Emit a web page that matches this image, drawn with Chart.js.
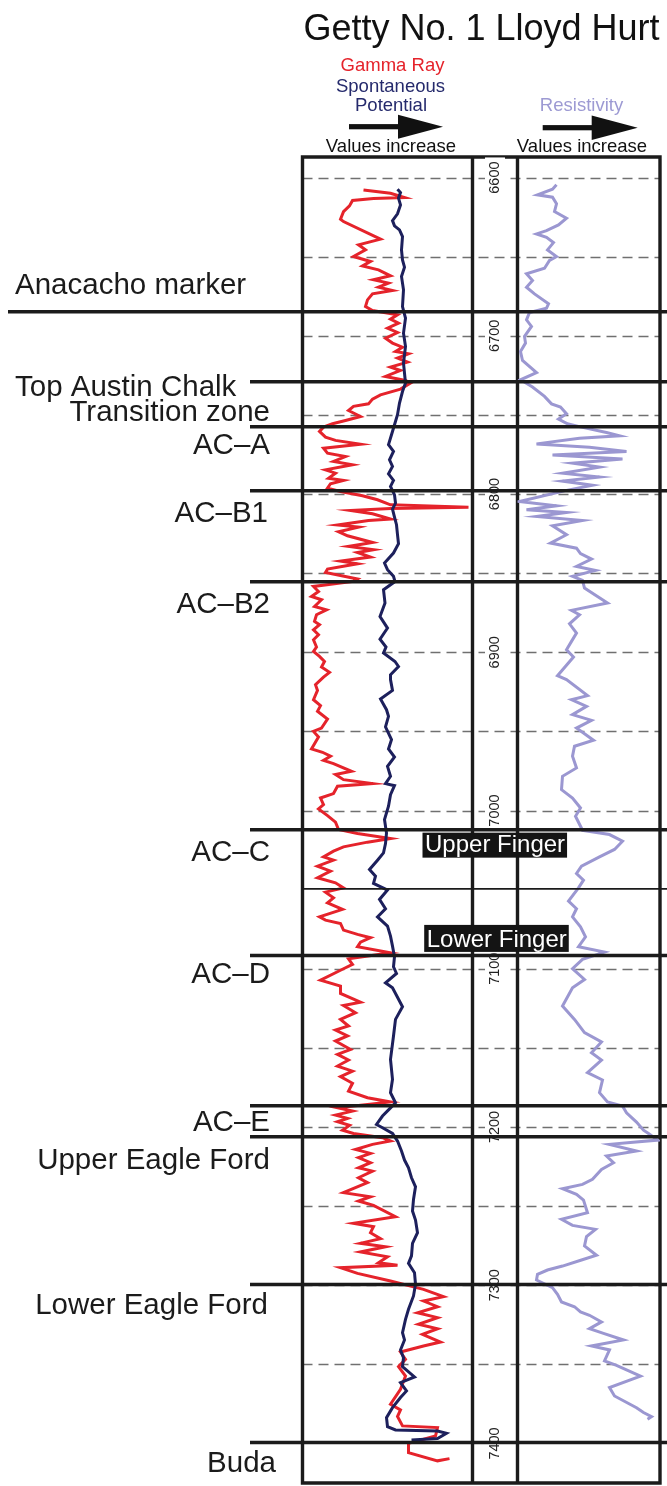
<!DOCTYPE html>
<html>
<head>
<meta charset="utf-8">
<title>Getty No. 1 Lloyd Hurt</title>
<style>
html,body{margin:0;padding:0;background:#fff;}
#wrap{position:relative;width:667px;height:1486px;}
canvas{display:block;}
</style>
<script src="https://cdn.jsdelivr.net/npm/chart.js@4.4.1/dist/chart.umd.min.js"></script>
</head>
<body>
<div id="wrap"><canvas id="c" width="667" height="1486"></canvas></div>
<script>
// ---------------- DATA ----------------
const chartTitle = 'Getty No. 1 Lloyd Hurt';

// Gamma ray (API)
const grDepth = [6607.8,6609.9,6612.6,6613.3,6614.5,6617.9,6621.5,6626.3,6627.8,6638.9,6642.5,6645.7,6649.9,6653.0,6655.8,6658.3,6662.1,6664.6,6666.7,6669.3,6671.4,6673.5,6677.3,6681.5,6684.0,6686.7,6689.5,6692.0,6695.2,6697.9,6701.5,6704.6,6707.2,6709.9,6711.4,6714.1,6716.6,6719.8,6721.9,6725.7,6728.2,6729.9,6733.7,6737.3,6740.0,6743.0,6744.6,6747.2,6751.0,6753.5,6755.6,6757.7,6760.4,6764.0,6766.1,6768.5,6771.0,6774.2,6776.3,6779.4,6781.5,6784.7,6786.8,6790.0,6791.4,6793.5,6796.3,6798.4,6801.1,6803.6,6806.8,6808.3,6809.1,6810.4,6812.5,6815.8,6816.7,6819.6,6820.9,6823.8,6826.4,6830.6,6833.1,6835.2,6836.9,6839.8,6842.4,6844.1,6847.4,6849.5,6853.7,6855.2,6858.4,6861.6,6864.7,6866.8,6871.1,6873.2,6876.3,6880.5,6882.6,6885.8,6888.9,6892.1,6896.7,6899.5,6902.6,6905.8,6909.3,6912.7,6915.7,6920.5,6924.1,6930.0,6933.7,6937.3,6942.2,6947.9,6950.0,6953.5,6961.1,6963.2,6965.7,6968.3,6970.4,6975.2,6977.3,6980.5,6983.0,6984.7,6989.3,6992.1,6996.3,6999.0,7003.2,7007.4,7012.0,7014.5,7017.7,7020.0,7023.0,7025.7,7029.3,7031.4,7035.2,7038.3,7042.5,7045.7,7048.9,7051.6,7055.2,7058.3,7062.5,7067.2,7069.3,7071.4,7075.6,7078.3,7080.4,7083.2,7086.1,7089.9,7093.7,7097.3,7100.0,7107.2,7111.0,7115.6,7121.1,7123.2,7127.8,7132.0,7136.2,7138.8,7142.5,7145.7,7151.0,7154.1,7157.7,7161.5,7164.7,7168.2,7172.4,7177.3,7181.5,7184.2,7187.9,7190.0,7192.5,7194.6,7196.7,7199.0,7202.0,7204.1,7206.8,7208.9,7211.0,7214.2,7216.7,7219.4,7222.6,7225.8,7227.9,7232.1,7235.2,7241.5,7244.1,7246.8,7249.5,7256.7,7260.9,7263.0,7266.8,7270.6,7273.5,7275.7,7279.0,7282.0,7285.8,7287.4,7288.9,7292.5,7297.3,7302.6,7307.2,7310.0,7313.6,7317.4,7320.5,7324.7,7327.5,7331.0,7335.9,7338.4,7342.2,7346.8,7351.5,7357.4,7365.8,7375.2,7378.8,7383.0,7388.9,7390.0,7395.3,7399.9,7405.8,7411.0,7409.6];
const grApi = [61,88,102,71,50,47,41,38,41,78,56,63,51,68,60,76,88,71,86,76,90,70,65,63,70,95,88,96,85,95,83,90,100,93,106,95,105,88,98,83,103,108,98,78,70,66,51,46,58,43,30,21,17,23,33,58,21,25,43,31,50,23,33,26,41,28,25,38,60,75,88,166,88,48,70,88,66,35,56,36,45,70,46,71,55,68,38,55,25,23,55,51,11,16,9,19,12,24,14,12,17,11,16,11,14,11,17,22,19,27,21,13,15,11,18,15,25,19,11,16,9,20,28,21,31,49,33,41,70,35,31,18,21,16,25,33,36,55,88,65,41,31,21,31,15,28,15,33,41,23,31,25,40,17,23,38,41,55,68,58,55,88,46,50,41,18,38,38,58,41,53,38,46,33,45,33,48,35,46,35,50,38,50,46,65,88,35,50,33,45,35,47,40,51,80,88,70,53,68,56,68,56,70,56,65,41,68,56,71,93,51,71,68,78,58,83,58,85,76,95,38,55,88,121,141,121,135,115,135,116,135,120,138,121,98,103,96,103,98,88,98,95,100,135,133,106,106,135,147];

// Spontaneous potential (mV)
const spDepth = [6607.4,6609.5,6613.0,6617.3,6622.9,6627.2,6630.5,6633.1,6637.3,6645.7,6652.0,6656.6,6662.5,6670.9,6681.5,6688.8,6698.3,6706.7,6717.3,6729.9,6735.2,6742.5,6749.9,6756.2,6762.5,6768.8,6773.1,6778.4,6782.6,6787.2,6791.4,6795.2,6800.5,6805.7,6809.5,6814.6,6819.4,6825.7,6831.4,6837.3,6843.6,6847.8,6852.0,6855.3,6860.5,6868.9,6877.4,6884.7,6891.7,6896.7,6900.5,6905.8,6909.0,6914.2,6917.3,6924.1,6929.5,6936.3,6940.5,6947.2,6955.2,6961.1,6966.2,6972.1,6978.4,6983.0,6984.3,6990.0,6997.3,7005.7,7014.2,7020.9,7026.8,7031.4,7037.3,7041.5,7046.1,7050.3,7056.2,7062.1,7067.2,7073.1,7079.4,7085.7,7092.4,7098.8,7103.0,7108.9,7112.0,7124.0,7132.0,7142.5,7157.3,7169.9,7178.3,7184.7,7187.9,7193.1,7198.4,7200.5,7204.1,7208.9,7215.2,7220.9,7225.8,7232.1,7237.8,7245.8,7253.1,7258.8,7266.8,7273.5,7281.5,7286.2,7292.1,7299.4,7306.8,7315.2,7321.6,7330.0,7334.6,7340.9,7345.8,7351.5,7358.0,7361.6,7366.8,7371.0,7377.4,7383.7,7389.4,7391.5,7392.1,7393.6,7396.9,7397.8];
const spMv = [-75,-72,-74,-72,-75,-80,-78,-73,-70,-71,-70,-68,-71,-69,-70,-67,-69,-67,-69,-67,-70,-73,-75,-78,-81,-84,-79,-83,-80,-84,-79,-82,-78,-77,-80,-78,-76,-75,-74,-79,-88,-85,-79,-77.5,-89,-87.5,-92.5,-85,-92.5,-86.5,-89,-77.5,-74,-82,-82,-80,-92,-86,-84,-87,-81,-84,-78,-85,-82,-87,-78,-82,-84,-88,-86,-87,-89,-95,-103,-97,-99,-85,-93,-87,-95,-85,-82,-80,-78,-79,-76,-87,-80,-70,-77,-79,-82,-80,-82,-77,-82,-90,-96,-90,-80,-75,-71,-68,-64,-61,-57,-59,-60,-57,-55,-60,-61,-64,-58,-57,-59,-64,-67,-70,-68,-72,-69,-70,-58,-72,-66,-72,-80,-86,-85,-77,-35,-26,-35,-61];

// Resistivity (ohm-m)
const resDepth = [6604.6,6607.4,6610.9,6612.4,6616.6,6621.5,6625.7,6629.9,6633.5,6635.6,6637.7,6641.1,6645.7,6649.9,6652.4,6657.3,6660.8,6665.1,6669.3,6673.5,6679.8,6682.5,6685.3,6689.9,6694.1,6700.4,6704.6,6709.9,6715.6,6723.2,6727.8,6732.4,6738.3,6743.0,6745.0,6749.3,6752.6,6755.6,6757.7,6761.1,6763.2,6764.7,6768.3,6770.4,6773.1,6775.4,6777.9,6780.5,6783.0,6786.8,6789.3,6791.8,6794.4,6797.7,6804.7,6807.4,6809.9,6811.6,6814.2,6816.7,6820.1,6825.7,6831.0,6834.2,6837.7,6841.1,6845.7,6848.3,6852.0,6854.6,6859.4,6868.9,6873.5,6876.3,6882.0,6887.9,6893.1,6898.4,6903.0,6914.8,6917.3,6927.4,6930.0,6934.2,6939.4,6943.0,6947.9,6955.6,6959.4,6965.7,6973.1,6978.4,6986.8,6992.1,6998.4,7003.6,7012.5,7015.2,7019.4,7024.6,7029.3,7035.2,7039.8,7044.0,7048.9,7057.3,7062.1,7067.2,7073.5,7079.8,7086.1,7089.5,7094.1,7100.0,7106.8,7112.0,7123.6,7132.0,7140.4,7146.3,7153.1,7157.7,7165.7,7170.3,7178.3,7184.2,7186.8,7191.0,7196.9,7202.0,7204.1,7208.3,7211.0,7215.2,7218.4,7222.6,7226.8,7233.1,7236.3,7239.0,7242.6,7246.2,7254.2,7258.4,7262.2,7264.7,7269.3,7275.2,7281.1,7284.1,7287.9,7290.4,7293.1,7296.7,7301.5,7305.8,7310.6,7313.6,7316.9,7319.0,7323.2,7327.5,7330.4,7334.6,7338.4,7340.9,7347.9,7350.6,7357.4,7364.7,7370.0,7377.4,7380.5,7383.1,7384.7];
const resOhm = [39,35,20,35,39,37,49,41,29,19,29,36,30,39,32,27,9,15,9,17,31,29,12,9,14,7,8,3,5,19,3,15,27,34,43,49,41,50,64,89,102,62,19,72,109,35,105,55,82,45,82,45,75,49,2,39,9,49,19,65,35,49,33,59,63,74,59,78,55,65,67,90,54,62,52,59,54,49,56,40,49,70,54,69,55,74,59,76,57,55,59,45,44,55,63,58,65,92,105,97,82,64,59,66,61,51,59,55,63,68,61,87,65,55,67,55,45,57,67,84,74,84,70,85,82,90,105,109,119,126,131,140,92,119,89,96,84,75,65,45,59,66,70,44,55,78,69,67,79,64,45,30,20,19,35,40,44,57,63,72,84,72,86,106,74,92,87,99,123,92,97,119,126,134,130];

// Depth axis
const depthTicks = [6600,6700,6800,6900,7000,7100,7200,7300,7400];
const gridDepths = [6600,6650,6700,6750,6800,6850,6900,6950,7000,7100,7150,7200,7250,7300,7350];

// Formation tops
const topNames  = ['Anacacho marker','Top Austin Chalk','AC\u2013A','AC\u2013B1','AC\u2013B2','AC\u2013C','AC\u2013D','AC\u2013E','Upper Eagle Ford','Lower Eagle Ford','Buda'];
const topDepths = [6684.8,6729.1,6757.5,6797.9,6855.4,7012.1,7091.7,7186.6,7206.1,7299.6,7399.4];
const intervalName = 'Transition zone';
const fingerNames = ['Upper Finger','Lower Finger'];
const fingerBoundary = 7049.5;

// ---------------- LAYOUT / STYLE ----------------
const FONT = '"Liberation Sans", Arial, Helvetica, sans-serif';
const INK = '#1b1b1b';
const RED = '#e5232b';
const NAVY = '#1d205c';
const LILAC = '#9b97d1';

const labelLayout = [
  {align:'left', x:15, dy:-18, lineX:8},
  {align:'left', x:15, dy:14, lineX:250},
  {align:'right', x:270, dy:27, lineX:250},
  {align:'right', x:268, dy:31, lineX:250},
  {align:'right', x:270, dy:31, lineX:250},
  {align:'right', x:270, dy:31, lineX:250},
  {align:'right', x:270, dy:27, lineX:250},
  {align:'right', x:270, dy:25.5, lineX:250},
  {align:'right', x:270, dy:32, lineX:250},
  {align:'right', x:268, dy:29, lineX:250},
  {align:'right', x:276, dy:30, lineX:250}
];

const logPlugin = {
  id: 'logPlugin',
  beforeDatasetsDraw(chart) {
    const {ctx, scales} = chart;
    const y = scales.y, gr = scales.xGR, dep = scales.xDepth, res = scales.xRes;
    const top = chart.chartArea.top, bot = chart.chartArea.bottom;
    ctx.save();
    // dashed depth grid
    ctx.strokeStyle = '#707070';
    ctx.lineWidth = 1.3;
    ctx.setLineDash([10, 6]);
    gridDepths.forEach(d => {
      const py = Math.round(y.getPixelForValue(d)) + 0.5;
      ctx.beginPath(); ctx.moveTo(gr.left, py); ctx.lineTo(res.right, py); ctx.stroke();
    });
    ctx.setLineDash([]);
    // frame
    ctx.strokeStyle = INK;
    ctx.lineWidth = 3.4;
    ctx.beginPath();
    ctx.moveTo(gr.left, top); ctx.lineTo(res.right, top);
    ctx.moveTo(gr.left, bot); ctx.lineTo(res.right, bot);
    [gr.left, dep.left, dep.right, res.right].forEach(px => { ctx.moveTo(px, top - 1.7); ctx.lineTo(px, bot + 1.7); });
    ctx.stroke();
    // depth labels with white backing
    ctx.font = '14.5px ' + FONT;
    ctx.textAlign = 'center';
    ctx.textBaseline = 'middle';
    const cx = (dep.left + dep.right) / 2;
    depthTicks.forEach(d => {
      const py = y.getPixelForValue(d);
      const w = ctx.measureText(String(d)).width;
      ctx.fillStyle = '#ffffff';
      ctx.fillRect(cx - 10, py - w / 2 - 4, 20, w + 8);
      ctx.save();
      ctx.translate(cx, py);
      ctx.rotate(-Math.PI / 2);
      ctx.fillStyle = '#222';
      ctx.fillText(String(d), 0, 0);
      ctx.restore();
    });
    ctx.restore();
  },
  afterDatasetsDraw(chart) {
    const {ctx, scales, width} = chart;
    const y = scales.y, gr = scales.xGR;
    ctx.save();
    // formation lines
    ctx.strokeStyle = INK;
    ctx.lineWidth = 3.5;
    topDepths.forEach((d, i) => {
      const py = y.getPixelForValue(d);
      ctx.beginPath(); ctx.moveTo(labelLayout[i].lineX, py); ctx.lineTo(width, py); ctx.stroke();
    });
    ctx.lineWidth = 1.8;
    const fb = y.getPixelForValue(fingerBoundary);
    ctx.beginPath(); ctx.moveTo(gr.left, fb); ctx.lineTo(width, fb); ctx.stroke();

    // formation labels
    ctx.fillStyle = INK;
    ctx.font = '29.5px ' + FONT;
    ctx.textBaseline = 'alphabetic';
    topNames.forEach((n, i) => {
      const L = labelLayout[i];
      ctx.textAlign = L.align;
      ctx.fillText(n, L.x, y.getPixelForValue(topDepths[i]) + L.dy);
    });
    ctx.textAlign = 'right';
    ctx.fillText(intervalName, 270, y.getPixelForValue(topDepths[2]) - 5.5);

    // finger boxes
    ctx.font = '24px ' + FONT;
    ctx.textAlign = 'left';
    const boxes = [
      {x: 425, base: y.getPixelForValue(topDepths[5]) + 22.7, up: 19.7, down: 5.3},
      {x: 426.7, base: y.getPixelForValue(topDepths[6]) - 9, up: 21.7, down: 5.3}
    ];
    fingerNames.forEach((n, i) => {
      const b = boxes[i];
      const w = ctx.measureText(n).width;
      ctx.fillStyle = '#141414';
      ctx.fillRect(b.x - 2.5, b.base - b.up, w + 4.5, b.up + b.down);
      ctx.fillStyle = '#ffffff';
      ctx.fillText(n, b.x, b.base);
    });
    ctx.restore();
  },
  afterDraw(chart) {
    const {ctx} = chart;
    ctx.save();
    ctx.fillStyle = '#111';
    ctx.textBaseline = 'alphabetic';
    ctx.textAlign = 'center';
    ctx.font = '36px ' + FONT;
    ctx.fillText(chartTitle, 481.5, 40);

    ctx.font = '18.5px ' + FONT;
    ctx.fillStyle = RED; ctx.fillText('Gamma Ray', 392.5, 71);
    ctx.fillStyle = '#252a6c'; ctx.fillText('Spontaneous', 390.5, 91.7); ctx.fillText('Potential', 391, 111);
    ctx.fillStyle = '#9d9ad3'; ctx.fillText('Resistivity', 581.5, 111);
    ctx.fillStyle = '#111';
    ctx.fillText('Values increase', 391, 151.7);
    ctx.fillText('Values increase', 582, 151.7);

    const arrow = (x0, x1, xh, yc, hh) => {
      ctx.fillRect(x0, yc - 2.6, xh - x0 + 2, 5.2);
      ctx.beginPath(); ctx.moveTo(xh, yc - hh); ctx.lineTo(x1, yc); ctx.lineTo(xh, yc + hh); ctx.closePath(); ctx.fill();
    };
    arrow(349, 443, 398, 126.7, 12);
    arrow(542.7, 637.7, 591.7, 127.7, 12.3);
    ctx.restore();
  }
};

// ---------------- CHART ----------------
const toPts = (ds, vs) => ds.map((d, i) => ({x: vs[i], y: d}));

new Chart(document.getElementById('c'), {
  type: 'scatter',
  data: {
    datasets: [
      {label: 'Spontaneous Potential', data: toPts(spDepth, spMv), xAxisID: 'xSP', yAxisID: 'y',
       showLine: true, borderColor: NAVY, borderWidth: 3, pointRadius: 0, fill: false},
      {label: 'Gamma Ray', data: toPts(grDepth, grApi), xAxisID: 'xGR', yAxisID: 'y',
       showLine: true, borderColor: RED, borderWidth: 3, pointRadius: 0, fill: false},
      {label: 'Resistivity', data: toPts(resDepth, resOhm), xAxisID: 'xRes', yAxisID: 'y',
       showLine: true, borderColor: LILAC, borderWidth: 3, pointRadius: 0, fill: false}
    ]
  },
  options: {
    responsive: false,
    animation: false,
    devicePixelRatio: 1,
    layout: {padding: {left: 302.5, right: 7, top: 157, bottom: 3}},
    plugins: {legend: {display: false}, tooltip: {enabled: false}, title: {display: false}},
    elements: {line: {tension: 0, borderJoinStyle: 'miter'}},
    scales: {
      xGR:    {type: 'linear', position: 'bottom', stack: 'tracks', stackWeight: 170, min: 0, max: 170, display: false},
      xDepth: {type: 'linear', position: 'bottom', stack: 'tracks', stackWeight: 45, min: 0, max: 1, display: false},
      xRes:   {type: 'linear', position: 'bottom', stack: 'tracks', stackWeight: 142.5, min: 0, max: 142.5, display: false},
      xSP:    {type: 'linear', position: 'bottom', stack: 'sp', stackWeight: 170, min: -170, max: 0, display: false},
      xPad:   {type: 'linear', position: 'bottom', stack: 'sp', stackWeight: 187.5, min: 0, max: 1, display: false},
      y:      {type: 'linear', position: 'left', reverse: true, min: 6587, max: 7425, display: false}
    }
  },
  plugins: [logPlugin]
});
</script>
</body>
</html>
